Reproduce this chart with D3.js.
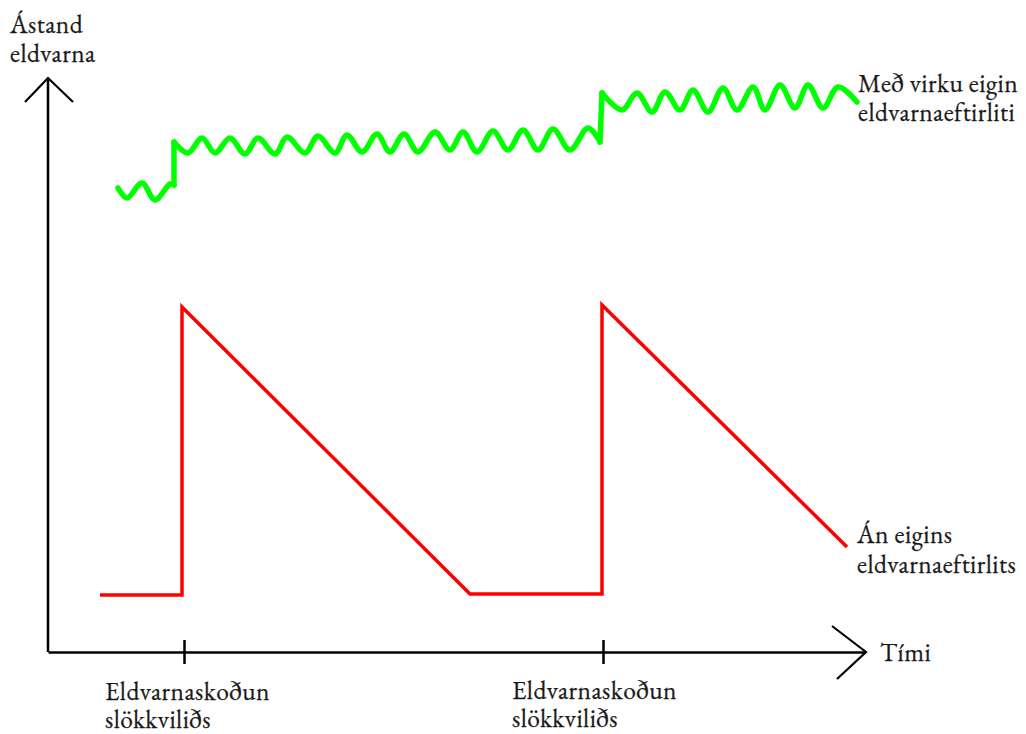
<!DOCTYPE html>
<html><head><meta charset="utf-8">
<script src="https://cdn.jsdelivr.net/npm/d3@7"></script>
<style>
html,body{margin:0;padding:0;background:#fff;}
</style></head>
<body>
<svg id="c" width="1026" height="734"></svg>
<script>
// ---- data (time units from origin, state units from origin) ----
const yAxisTitle = ["Ástand", "eldvarna"];
const xAxisTitle = "Tími";
const inspectionTimes = [136, 555];
const inspectionLabel = ["Eldvarnaskoðun", "slökkviliðs"];

const redLabel = ["Án eigins", "eldvarnaeftirlits"];
const redLine = [[52,57],[134,57],[134,345],[422,58],[554,58],[554,347],[799,105]];

const greenLabel = ["Með virku eigin", "eldvarnaeftirliti"];
const greenWave1 = [[70,464],[79,454],[94,469],[107,452],[122,468],[126,467]];
const greenWave2 = [[126,510],[140,499],[154,514],[167,499],[182,514],[197,498],[210,514],[227,498],[239,515],[257,499],[270,516],[287,499],[299,517],[314,500],[329,518],[342,500],[356,518],[370,500],[387,520],[402,502],[415,520],[429,500],[445,521],[460,502],[475,522],[490,502],[505,523],[522,502],[540,524],[552,510]];
const greenWave3 = [[554,559],[574,542],[589,559],[604,540],[617,560],[632,542],[645,562],[660,540],[675,564],[689,542],[705,565],[717,542],[732,567],[747,544],[760,567],[775,544],[790,565],[809,550]];

// ---- scales ----
const x = d3.scaleLinear().domain([0, 817]).range([48, 865]);
const y = d3.scaleLinear().domain([0, 574]).range([652, 78]);

const FONT = "'EB Garamond', 'Liberation Serif', serif";
const fs = 25.5;
const ls = 0.45;
const svg = d3.select("#c");

function label(xp, yp, lines, gap) {
  lines.forEach((s, i) => {
    svg.append("text").attr("x", xp).attr("y", yp + i * gap)
      .attr("font-family", FONT).attr("font-size", fs).attr("letter-spacing", ls)
      .attr("fill", "#1a1a1a").attr("stroke", "#1a1a1a").attr("stroke-width", 0.25).text(s);
  });
}

// y axis
svg.append("line").attr("x1", x(0)).attr("x2", x(0)).attr("y1", y(0)).attr("y2", y(574))
  .attr("stroke", "#000").attr("stroke-width", 2.5);
svg.append("path")
  .attr("d", `M${x(0)-23},${y(574)+24} L${x(0)},${y(574)} L${x(0)+25},${y(574)+24}`)
  .attr("fill", "none").attr("stroke", "#000").attr("stroke-width", 2.2);

// x axis
const xAxis = d3.axisBottom(x).tickValues(inspectionTimes).tickSizeOuter(0).tickSizeInner(12).tickFormat("");
const gx = svg.append("g").attr("transform", `translate(0,${y(0)})`).call(xAxis);
gx.select(".domain").attr("stroke", "#000").attr("stroke-width", 2.5);
gx.selectAll(".tick line").attr("y1", -12).attr("y2", 12).attr("stroke", "#000").attr("stroke-width", 2.5);
svg.append("path")
  .attr("d", `M${x(817)-33},${y(0)-26} L${x(817)+1},${y(0)} L${x(817)-28},${y(0)+27}`)
  .attr("fill", "none").attr("stroke", "#000").attr("stroke-width", 2.2);

// tick labels
label(x(inspectionTimes[0]) - 79, 700, inspectionLabel, 28);
label(x(inspectionTimes[1]) - 91, 699, inspectionLabel, 28);

// axis titles
label(10, 33, yAxisTitle, 29);
label(880, 661, [xAxisTitle], 0);

// red line
const lin = d3.line().x(d => x(d[0])).y(d => y(d[1]));
svg.append("path").datum(redLine).attr("d", lin)
  .attr("fill", "none").attr("stroke", "#ff0000").attr("stroke-width", 3.5).attr("stroke-linejoin", "miter");

// green wave
const wav = d3.line().x(d => x(d[0])).y(d => y(d[1])).curve(d3.curveCatmullRom.alpha(0.5));
[greenWave1, greenWave2, greenWave3].forEach(seg => {
  svg.append("path").datum(seg).attr("d", wav)
    .attr("fill", "none").attr("stroke", "#00ff00").attr("stroke-width", 5.5).attr("stroke-linecap", "round").attr("stroke-linejoin", "round");
});
const jumps = [[greenWave1[greenWave1.length-1], greenWave2[0]], [greenWave2[greenWave2.length-1], greenWave3[0]]];
jumps.forEach(j => svg.append("path").datum(j).attr("d", lin)
  .attr("fill", "none").attr("stroke", "#00ff00").attr("stroke-width", 5.5).attr("stroke-linecap", "round"));

// series labels
label(858, 92, greenLabel, 29);
label(857, 543, redLabel, 30);
</script>
</body></html>
